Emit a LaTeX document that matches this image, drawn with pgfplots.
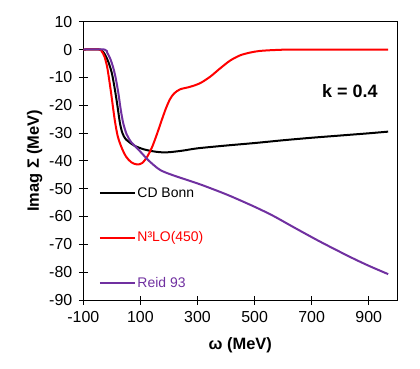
\documentclass[border=0pt]{standalone}
\usepackage{pgfplots}
\pgfplotsset{compat=1.18}
\usepackage{fontspec}
\setmainfont{Liberation Sans}
\definecolor{ReidPurple}{RGB}{112,48,160}

\begin{document}
\begin{tikzpicture}
\begin{axis}[
    at={(0,0)}, anchor=south west,
    scale only axis, width=314bp, height=278.3bp,
    xmin=-100, xmax=1000, ymin=-90, ymax=10,
    xtick={-100,100,...,900}, ytick={-90,-80,...,10},
    xtick pos=bottom, ytick pos=left,
    tick align=center, major tick length=9bp,
    tick style={black, line width=0.8pt},
    axis line style={line width=0.9pt},
    /pgf/number format/assume math mode=true,
    ticklabel style={font=\fontsize{16}{19}\selectfont},
    xticklabel style={yshift=-3bp},
    yticklabel style={xshift=-3bp},
    xlabel={\textbf{ω (MeV)}}, ylabel={\textbf{Imag Σ (MeV)}},
    label style={font=\fontsize{16.5}{19}\selectfont},
    xlabel style={yshift=-8bp}, ylabel style={yshift=0bp},
    every axis plot/.append style={line width=2bp, smooth, tension=0.5},
]
% CD Bonn
\addplot[black] coordinates {
(-100,0) (-42,0) (-34,-0.5) (-24,-1.8) (-12,-4.5) (0,-8.5) (11,-14.6) (20,-20.5)
(28.5,-26.5) (37,-30) (47,-32) (60,-33.2) (80,-34.6) (110,-35.8) (140,-36.5)
(170,-36.9) (200,-36.9) (250,-36.3) (300,-35.5) (400,-34.5) (500,-33.6)
(600,-32.6) (700,-31.7) (800,-30.9) (900,-30.1) (968,-29.5)
};
% N3LO(450)
\addplot[red] coordinates {
(-100,0) (-44,0) (-36,-0.6) (-26,-2.5) (-16,-6.5) (-4,-14.6) (5,-21.5) (12,-26.5)
(21,-31.3) (34.5,-35.3) (50,-38.5) (68,-40.5) (88,-41.3) (106,-40.8) (124,-38.5)
(142,-34.8) (160,-29.8) (176,-25) (190,-21) (204,-17.8) (218,-15.8) (239,-14.3)
(274,-13.4) (309,-12.1) (344,-9.8) (379,-6.8) (414,-4.0) (449,-2.1) (484,-1.1)
(519,-0.5) (577,-0.15) (650,0) (968,0)
};
% Reid 93
\addplot[ReidPurple] coordinates {
(-100,0) (-26,0) (-16,-1.2) (-6,-3.2) (4,-6.2) (13,-10) (22.6,-15.5) (31,-21.5)
(40,-26.5) (52,-30.5) (68,-33.3) (87,-35.3) (108,-37.6) (128,-39.8) (168,-43.2)
(215,-45.2) (297,-48) (355,-50.2) (414,-52.6) (500,-56.5) (566,-59.8)
(636,-63.8) (729,-69) (834,-74.5) (900,-77.7) (968,-80.7)
};
% legend
\draw[black, line width=2bp] (axis cs:-41.5,-51.4) -- (axis cs:81,-51.4)
  node[right, inner sep=1.5bp, font=\fontsize{14}{17}\selectfont] {CD Bonn};
\draw[red, line width=2bp] (axis cs:-41.5,-67.6) -- (axis cs:81,-67.6)
  node[right, inner sep=1.5bp, font=\fontsize{14}{17}\selectfont] {N³LO(450)};
\draw[ReidPurple, line width=2bp] (axis cs:-41.5,-83.8) -- (axis cs:81,-83.8)
  node[right, inner sep=1.5bp, font=\fontsize{14}{17}\selectfont] {Reid 93};
\node[font=\bfseries\fontsize{18}{21}\selectfont] at (axis cs:834,-14.8) {k = 0.4};
\end{axis}
\path (-83.3bp,-69bp) rectangle (336.7bp,300bp);
\end{tikzpicture}
\end{document}
